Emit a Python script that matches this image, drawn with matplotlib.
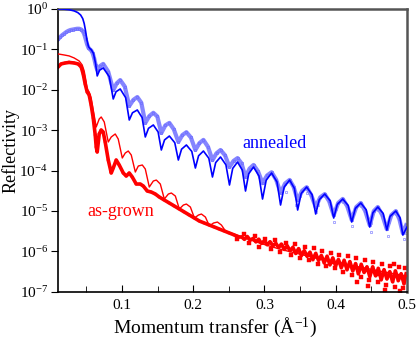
import numpy as np
import matplotlib
matplotlib.use("Agg")
import matplotlib.pyplot as plt

plt.rcParams['font.family'] = ['Liberation Serif', 'DejaVu Serif']
plt.rcParams['mathtext.fontset'] = 'custom'
plt.rcParams['mathtext.rm'] = 'Liberation Serif'
plt.rcParams['mathtext.it'] = 'Liberation Serif:italic'

# values: q in 1/A, log10 of reflectivity

# annealed, measured
ann_q = [0.0104, 0.013, 0.016, 0.019, 0.022, 0.025, 0.028, 0.031, 0.034, 0.037,
         0.040, 0.043, 0.045, 0.047, 0.049, 0.051, 0.053, 0.055, 0.057, 0.059,
         0.061, 0.063,
         0.0653, 0.0695, 0.0737, 0.0807, 0.0878, 0.0927, 0.0976, 0.1040,
         0.1103, 0.1160, 0.1216, 0.1272, 0.1328, 0.1385, 0.1441, 0.1497,
         0.1553, 0.1610, 0.1666, 0.1729, 0.1792, 0.1849, 0.1905, 0.1968,
         0.2031, 0.2088, 0.2144, 0.2208, 0.2271, 0.2328, 0.2384, 0.2447,
         0.2510, 0.2567, 0.2623, 0.2679, 0.2735, 0.2792, 0.2848, 0.2911,
         0.2974, 0.3038, 0.3101, 0.3164, 0.3227, 0.3290, 0.3354, 0.3410,
         0.3467, 0.3530, 0.3593, 0.3656, 0.3720, 0.3784, 0.3847, 0.3910,
         0.3973, 0.4036, 0.4100, 0.4163, 0.4226, 0.4290, 0.4353, 0.4416,
         0.4479, 0.4536, 0.4592, 0.4655, 0.4719, 0.4782, 0.4845, 0.4895,
         0.4944, 0.4990]
ann_logR = [-0.75, -0.70, -0.65, -0.61, -0.57, -0.54, -0.52, -0.51, -0.50, -0.49,
            -0.49, -0.51, -0.55, -0.62, -0.74, -0.87, -0.96, -1.00, -1.03, -1.10,
            -1.22, -1.38,
            -1.51, -1.41, -1.36, -1.55, -2.01, -1.84, -1.76, -1.92,
            -2.40, -2.25, -2.18, -2.32, -2.82, -2.65, -2.57, -2.66,
            -3.07, -2.88, -2.82, -2.98, -3.29, -3.12, -3.05, -3.18,
            -3.49, -3.32, -3.24, -3.41, -3.74, -3.57, -3.49, -3.62,
            -3.91, -3.76, -3.69, -3.82, -4.16, -3.95, -3.86, -4.02,
            -4.31, -4.12, -4.04, -4.22, -4.55, -4.32, -4.23, -4.40,
            -4.73, -4.50, -4.41, -4.60, -4.90, -4.66, -4.58, -4.76,
            -5.10, -4.80, -4.70, -4.88, -5.22, -4.90, -4.80, -5.00,
            -5.35, -5.00, -4.90, -5.10, -5.45, -5.10, -5.00, -5.20,
            -5.55, -5.35]

# annealed, scattered points at large q
ann_sc_q = [0.330, 0.345, 0.350, 0.360, 0.372, 0.375, 0.385, 0.396, 0.398, 0.400,
            0.410, 0.421, 0.423, 0.425, 0.436, 0.446, 0.449, 0.450, 0.460, 0.470,
            0.473, 0.475, 0.485, 0.494, 0.496, 0.499]
ann_sc_logR = [-4.52, -4.85, -4.62, -4.55, -5.02, -4.85, -4.62, -5.05, -5.28, -4.95,
               -4.78, -5.12, -5.38, -5.05, -4.88, -5.22, -5.52, -5.30, -4.98, -5.32,
               -5.62, -5.28, -5.08, -5.48, -5.70, -5.55]

# annealed, fit
ann_fit_q = [0.0104, 0.018, 0.026, 0.033, 0.038, 0.042, 0.045, 0.047, 0.049, 0.051,
             0.053, 0.055, 0.057, 0.060, 0.063,
             0.0653, 0.0687, 0.0737, 0.0822, 0.0878, 0.0917, 0.0976, 0.1052,
             0.1103, 0.1148, 0.1216, 0.1283, 0.1328, 0.1373, 0.1441, 0.1508,
             0.1553, 0.1598, 0.1666, 0.1742, 0.1792, 0.1837, 0.1905, 0.1981,
             0.2031, 0.2076, 0.2144, 0.2220, 0.2271, 0.2316, 0.2384, 0.2460,
             0.2510, 0.2555, 0.2623, 0.2690, 0.2735, 0.2780, 0.2848, 0.2924,
             0.2974, 0.3025, 0.3101, 0.3177, 0.3227, 0.3278, 0.3354, 0.3422,
             0.3467, 0.3517, 0.3593, 0.3669, 0.3720, 0.3771, 0.3847, 0.3923,
             0.3973, 0.4024, 0.4100, 0.4176, 0.4226, 0.4277, 0.4353, 0.4429,
             0.4479, 0.4524, 0.4592, 0.4668, 0.4719, 0.4764, 0.4845, 0.4904,
             0.4944, 0.5000]
ann_fit_logR = [0.000, -0.005, -0.02, -0.05, -0.09, -0.15, -0.24, -0.36, -0.55, -0.78,
                -0.93, -0.98, -1.01, -1.10, -1.35,
                -1.658, -1.515, -1.460, -1.675, -2.228, -2.049, -1.980, -2.195,
                -2.748, -2.569, -2.500, -2.687, -3.168, -2.954, -2.871, -3.044,
                -3.490, -3.241, -3.144, -3.310, -3.738, -3.470, -3.366, -3.526,
                -3.936, -3.633, -3.515, -3.695, -4.158, -3.802, -3.663, -3.857,
                -4.356, -3.946, -3.787, -3.988, -4.505, -4.077, -3.911, -4.133,
                -4.703, -4.239, -4.059, -4.281, -4.851, -4.406, -4.233, -4.441,
                -4.975, -4.565, -4.406, -4.593, -5.074, -4.718, -4.579, -4.745,
                -5.173, -4.835, -4.703, -4.862, -5.272, -4.934, -4.802, -4.968,
                -5.396, -5.040, -4.901, -5.060, -5.470, -5.132, -5.000, -5.166,
                -5.594, -5.400]

# as-grown, measured
grown_q = [0.0104, 0.0146, 0.0203, 0.0259, 0.0329, 0.0385, 0.0428, 0.0456, 0.0484,
           0.0512, 0.0540, 0.0568, 0.0597, 0.0625, 0.0639, 0.0653, 0.0667, 0.0681,
           0.0709, 0.0737, 0.0765, 0.0808, 0.0850, 0.0878, 0.0920, 0.0962, 0.1019,
           0.1061, 0.1103, 0.1145, 0.1201, 0.1258, 0.1300, 0.1356, 0.1412, 0.1469,
           0.1525, 0.1595, 0.1666, 0.1736, 0.1806, 0.1877, 0.1947, 0.2018, 0.2088,
           0.2158, 0.2228, 0.2299, 0.2369, 0.2439, 0.2510, 0.2580, 0.2650,
           0.268, 0.272, 0.276, 0.280, 0.284, 0.288, 0.292, 0.296, 0.300, 0.304,
           0.308, 0.312, 0.316, 0.320, 0.324, 0.328, 0.332, 0.336, 0.340, 0.344,
           0.348, 0.352, 0.356, 0.360, 0.364, 0.368, 0.372, 0.376, 0.380, 0.384,
           0.388, 0.392, 0.396, 0.400, 0.404, 0.408, 0.412, 0.416, 0.420, 0.424,
           0.428, 0.432, 0.436, 0.440, 0.444, 0.448, 0.452, 0.456, 0.460, 0.464,
           0.468, 0.472, 0.476, 0.480, 0.484, 0.488, 0.492, 0.496, 0.499]
grown_logR = [-1.436, -1.361, -1.337, -1.324, -1.337, -1.361, -1.436, -1.609, -1.856,
              -2.054, -2.129, -2.376, -2.698, -3.119, -3.416, -3.540, -3.317, -3.094,
              -2.995, -3.045, -3.292, -3.738, -4.059, -3.936, -3.738, -3.861, -4.059,
              -4.134, -4.059, -4.158, -4.332, -4.332, -4.381, -4.505, -4.530, -4.579,
              -4.653, -4.728, -4.802, -4.876, -4.950, -5.025, -5.099, -5.173, -5.248,
              -5.297, -5.347, -5.396, -5.446, -5.495, -5.545, -5.594, -5.644,
              -5.64, -5.70, -5.63, -5.72, -5.68, -5.76, -5.70, -5.80, -5.74, -5.83,
              -5.76, -5.86, -5.80, -5.90, -5.82, -5.95, -5.86, -5.98, -5.90, -6.05,
              -5.93, -6.10, -5.98, -6.12, -6.02, -6.20, -6.05, -6.22, -6.10, -6.28,
              -6.12, -6.33, -6.16, -6.35, -6.20, -6.40, -6.22, -6.45, -6.25, -6.48,
              -6.30, -6.55, -6.32, -6.52, -6.38, -6.62, -6.38, -6.60, -6.42, -6.70,
              -6.45, -6.68, -6.50, -6.75, -6.48, -6.72, -6.55, -6.80, -6.55]

# as-grown, scattered points at large q
grown_sc_q = [0.262, 0.271, 0.279, 0.287, 0.293, 0.301, 0.309, 0.315, 0.322, 0.330,
              0.337, 0.343, 0.350, 0.357, 0.363, 0.369, 0.375, 0.381, 0.387, 0.393,
              0.399, 0.405, 0.411, 0.417, 0.423, 0.429, 0.435, 0.441, 0.447, 0.453,
              0.459, 0.465, 0.471, 0.477, 0.483, 0.489, 0.495, 0.498, 0.445, 0.470,
              0.490, 0.430, 0.458, 0.482, 0.412, 0.395]
grown_sc_logR = [-5.70, -5.58, -5.80, -5.62, -5.88, -5.68, -5.95, -5.72, -6.02, -5.78,
                 -6.08, -5.82, -6.15, -5.88, -6.22, -5.92, -6.30, -5.98, -6.35, -6.05,
                 -6.42, -6.08, -6.50, -6.12, -6.58, -6.15, -6.62, -6.22, -6.70, -6.25,
                 -6.75, -6.30, -6.82, -6.35, -6.88, -6.38, -6.90, -6.42, -6.85, -6.95,
                 -6.98, -6.75, -6.55, -6.30, -6.30, -6.25]

# as-grown, fit
grown_fit_q = [0.0104, 0.0188, 0.0259, 0.0329, 0.0399, 0.0442, 0.0470, 0.0498, 0.0512,
               0.0540, 0.0568, 0.0597, 0.0639, 0.0681, 0.0709, 0.0752, 0.0808, 0.0850,
               0.0906, 0.0948, 0.1005, 0.1047, 0.1089, 0.1131, 0.1188, 0.1230, 0.1286,
               0.1328, 0.1384, 0.1441, 0.1483, 0.1539, 0.1595, 0.1652, 0.1694, 0.1750,
               0.1806, 0.1863, 0.1905, 0.1961, 0.2018, 0.2074, 0.2116, 0.2172, 0.2228,
               0.2285, 0.2341, 0.2397, 0.2454, 0.2651, 0.2932, 0.3214, 0.3494, 0.3776,
               0.4057, 0.4339, 0.4620, 0.5000]
grown_fit_logR = [-1.114, -1.139, -1.163, -1.213, -1.287, -1.386, -1.535, -1.807, -1.980,
                  -2.054, -2.203, -2.500, -2.921, -2.723, -2.673, -2.797, -3.292, -3.168,
                  -3.094, -3.218, -3.688, -3.564, -3.515, -3.614, -4.035, -3.886, -3.861,
                  -3.960, -4.406, -4.257, -4.233, -4.332, -4.703, -4.579, -4.554, -4.629,
                  -4.950, -4.851, -4.827, -4.901, -5.173, -5.099, -5.074, -5.149, -5.371,
                  -5.297, -5.272, -5.347, -5.495, -5.619, -5.792, -5.941, -6.064, -6.188,
                  -6.287, -6.386, -6.485, -6.609]

blue = '#0000ff'
blue_light = '#8585ff'
red = '#ff0000'

fig = plt.figure(figsize=(4.16, 3.43), dpi=100)
ax = fig.add_axes([0.139, 0.149, 0.839, 0.825])

# measured curves (dense markers forming bands)
ax.plot(ann_q, 10.0 ** np.array(ann_logR), color=blue_light, lw=3.0,
        marker='s', ms=1.8, mfc='none', mec='#6e6eff', mew=0.5, zorder=2)
ax.plot(ann_sc_q, 10.0 ** np.array(ann_sc_logR), ls='none',
        marker='s', ms=2.0, mfc='none', mec='#8585ff', mew=0.5, zorder=2)
ax.plot(grown_q, 10.0 ** np.array(grown_logR), color=red, lw=2.6,
        marker='s', ms=1.8, mfc=red, mec=red, mew=0.3, zorder=2)
ax.plot(grown_sc_q, 10.0 ** np.array(grown_sc_logR), ls='none',
        marker='s', ms=2.2, mfc=red, mec=red, mew=0.3, zorder=2)

# fits
ax.plot(ann_fit_q, 10.0 ** np.array(ann_fit_logR), color=blue, lw=1.2, zorder=3)
ax.plot(grown_fit_q, 10.0 ** np.array(grown_fit_logR), color=red, lw=1.0, zorder=3)

ax.set_yscale('log')
ax.set_xlim(0.01, 0.5)
ax.set_ylim(1e-7, 1)
ax.set_xticks([0.1, 0.2, 0.3, 0.4, 0.5])
ax.set_xticklabels(['0.1', '0.2', '0.3', '0.4', '0.5'])
ax.set_xticks([0.05, 0.15, 0.25, 0.35, 0.45], minor=True)
ax.set_yticks([1e-7, 1e-6, 1e-5, 1e-4, 1e-3, 1e-2, 1e-1, 1])
ax.yaxis.set_minor_locator(matplotlib.ticker.NullLocator())

ax.tick_params(axis='x', which='both', direction='in', labelsize=11, pad=5)
ax.tick_params(axis='x', which='major', length=5)
ax.tick_params(axis='x', which='minor', length=4)
ax.tick_params(axis='y', which='major', direction='out', length=5, labelsize=11, pad=2)

for side in ['left', 'bottom']:
    ax.spines[side].set_color('black')
    ax.spines[side].set_linewidth(1.2)
for side in ['top', 'right']:
    ax.spines[side].set_color('#555555')
    ax.spines[side].set_linewidth(1.8)

ax.set_xlabel(r'Momentum transfer ($\mathrm{\AA}^{-1}$)', fontsize=14)
ax.xaxis.set_label_coords(0.45, -0.126)
ax.xaxis.label.set_va('center')
ax.set_ylabel('Reflectivity', fontsize=13)
ax.yaxis.set_label_coords(-0.135, 0.5)
ax.yaxis.label.set_va('center')

ax.text(0.314, 4.8e-4, 'annealed', color=blue, fontsize=13, ha='center', va='center')
ax.text(0.098, 1.0e-5, 'as-grown', color=red, fontsize=13, ha='center', va='center')

fig.savefig('out.png', dpi=100)
